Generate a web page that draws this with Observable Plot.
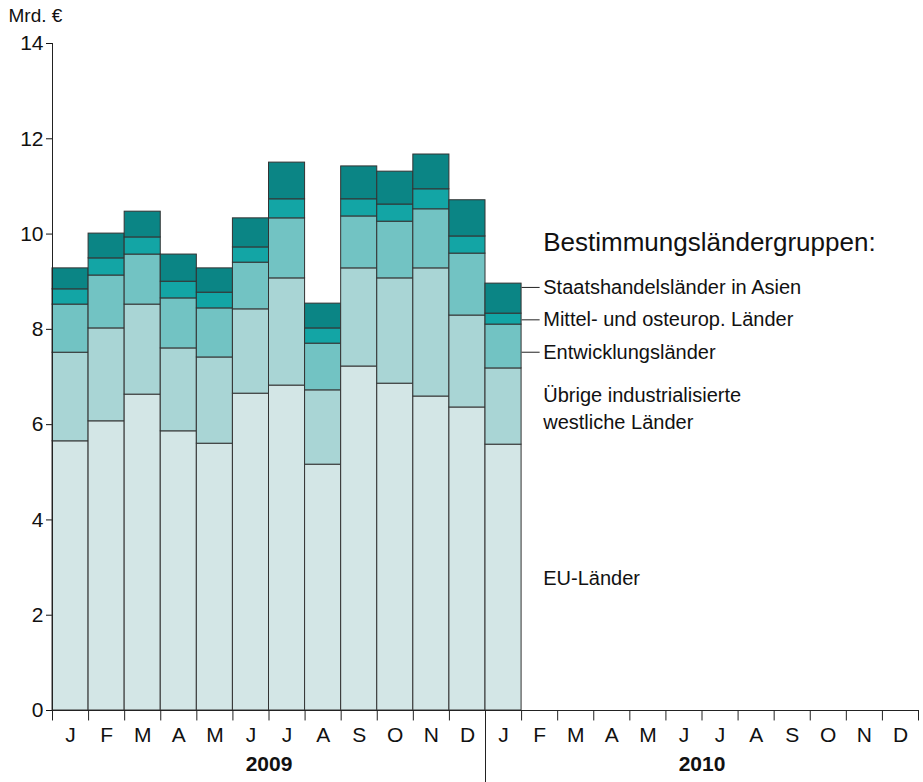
<!DOCTYPE html>
<html><head><meta charset="utf-8">
<script src="https://cdn.jsdelivr.net/npm/d3@7"></script>
<script src="https://cdn.jsdelivr.net/npm/@observablehq/plot@0.6"></script>
<style>body{margin:0;background:#fff;font-family:"Liberation Sans",Arial,sans-serif}</style>
</head><body><div id="chart"></div>
<script>
const monate = ["J","F","M","A","M","J","J","A","S","O","N","D","J","F","M","A","M","J","J","A","S","O","N","D"];
const gruppen = ["EU-Länder","Übrige industrialisierte westliche Länder","Entwicklungsländer","Mittel- und osteurop. Länder","Staatshandelsländer in Asien"];
const eu      = [5.65,6.07,6.63,5.86,5.60,6.65,6.82,5.16,7.22,6.86,6.59,6.36,5.58];
const uebrige = [1.86,1.95,1.89,1.74,1.81,1.77,2.25,1.56,2.06,2.21,2.69,1.93,1.60];
const entw    = [1.01,1.11,1.05,1.05,1.03,0.98,1.26,0.98,1.09,1.19,1.24,1.30,0.92];
const mittel  = [0.32,0.36,0.36,0.35,0.33,0.32,0.40,0.32,0.36,0.36,0.42,0.36,0.23];
const staats  = [0.44,0.52,0.54,0.57,0.51,0.61,0.77,0.52,0.69,0.69,0.73,0.76,0.63];
const farben  = ["#d3e6e6","#a9d5d5","#72c3c3","#13a5a5","#0b8585"];
const jahre = ["2009","2010"];

const reihen = [eu, uebrige, entw, mittel, staats];
const rows = [];
eu.forEach((_, i) => {
  let y = 0;
  reihen.forEach((r, k) => { rows.push({i, k, y1: y, y2: y + r[i]}); y += r[i]; });
});

// Beschriftungen rechts
const labels = [
  {t: "Staatshandelsländer in Asien", y: 8.88, line: true},
  {t: "Mittel- und osteurop. Länder", y: 8.2, line: true},
  {t: "Entwicklungsländer", y: 7.52, line: true},
  {t: "Übrige industrialisierte", y: 6.62},
  {t: "westliche Länder", y: 6.05},
  {t: "EU-Länder", y: 2.77}
];

const chart = Plot.plot({
  width: 923, height: 782,
  marginLeft: 52, marginRight: 5, marginTop: 43, marginBottom: 72,
  style: {fontFamily: "Liberation Sans, Arial, sans-serif", fontSize: "21px", color: "#111"},
  x: {domain: [0, 24], axis: null},
  y: {domain: [0, 14], ticks: d3.range(0, 15, 2), label: null, tickSize: 6},
  marks: [
    Plot.rect(rows, {x1: d => d.i, x2: d => d.i + 1, y1: "y1", y2: "y2",
      fill: d => farben[d.k], stroke: "#333", strokeWidth: 1}),
    Plot.ruleY([0], {stroke: "#222", strokeWidth: 1.2}),
    Plot.ruleX([0], {y1: 0, y2: 14, stroke: "#222"}),
    Plot.ruleX(d3.range(0, 25), {y1: 0, y2: -0.22, stroke: "#222", clip: false}),
    Plot.ruleX([12], {y1: 0, y2: -1.52, stroke: "#222", clip: false}),
    Plot.text(monate, {x: (d, i) => i + 0.5, y: -0.52, text: d => d, fontSize: 21, fill: "#111", clip: false}),
    Plot.text(jahre, {x: (d, i) => i * 12 + 6, y: -1.12, text: d => d, fontSize: 21, fontWeight: "bold", fill: "#111"}),
    Plot.text(labels, {x: 13.6, y: "y", text: "t", textAnchor: "start", fontSize: 20, fill: "#111"}),
    Plot.link(labels.filter(d => d.line), {x1: 13, x2: 13.5, y1: "y", y2: "y", stroke: "#222"}),
    Plot.text(["Bestimmungsländergruppen:"], {x: 13.6, y: 9.82, text: d => d, textAnchor: "start", fontSize: 26, fill: "#111", clip: false}),
    Plot.text(["Mrd. €"], {x: 0, y: 14, dy: -28, dx: -44, text: d => d, textAnchor: "start", fontSize: 19, fill: "#111", clip: false})
  ]
});
document.getElementById("chart").appendChild(chart);
</script></body></html>
